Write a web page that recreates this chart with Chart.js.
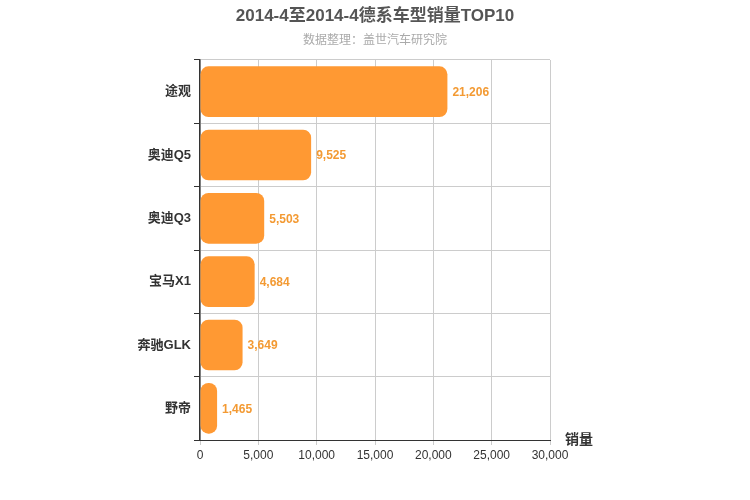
<!DOCTYPE html>
<html>
<head>
<meta charset="utf-8">
<script src="https://cdn.jsdelivr.net/npm/chart.js@4"></script>
<style>
  body { margin: 0; background: #fff; }
  #wrap { width: 750px; height: 500px; }
</style>
</head>
<body>
<div id="wrap"><canvas id="chart"></canvas></div>
<script>
// 车型和销量
const models = ['途观', '奥迪Q5', '奥迪Q3', '宝马X1', '奔驰GLK', '野帝'];
const sales = [21206, 9525, 5503, 4684, 3649, 1465];
const xTicks = [0, 5000, 10000, 15000, 20000, 25000, 30000];

const FONT = '"Liberation Sans", "Noto Sans CJK SC", sans-serif';

// 标题、数值标签和轴名
const decor = {
    id: 'decor',
    afterDraw(chart) {
        const ctx = chart.ctx;
        const area = chart.chartArea;
        ctx.save();
        ctx.textAlign = 'center';
        ctx.textBaseline = 'middle';
        ctx.fillStyle = '#555';
        ctx.font = 'bold 17px ' + FONT;
        ctx.fillText('2014-4至2014-4德系车型销量TOP10', 375, 16);
        ctx.fillStyle = '#aaa';
        ctx.font = '12px ' + FONT;
        ctx.fillText('数据整理：盖世汽车研究院', 375, 41);

        ctx.fillStyle = '#F39A33';
        ctx.font = 'bold 12px ' + FONT;
        ctx.textAlign = 'left';
        chart.getDatasetMeta(0).data.forEach((bar, i) => {
            ctx.fillText(sales[i].toLocaleString('en-US'), bar.x + 5, bar.y + 1);
        });

        ctx.fillStyle = '#333';
        ctx.font = 'bold 14px ' + FONT;
        ctx.fillText('销量', area.right + 15, area.bottom);
        ctx.restore();
    }
};

new Chart(document.getElementById('chart'), {
    type: 'bar',
    data: {
        labels: models,
        datasets: [{
            data: sales,
            backgroundColor: '#FF9933',
            borderRadius: 8,
            borderSkipped: false,
            barPercentage: 0.8,
            categoryPercentage: 1
        }]
    },
    options: {
        indexAxis: 'y',
        responsive: true,
        maintainAspectRatio: false,
        animation: false,
        layout: { padding: { left: 100, right: 200, top: 60, bottom: 35 } },
        plugins: { legend: { display: false }, tooltip: { enabled: false } },
        scales: {
            x: {
                min: 0, max: 30000,
                afterBuildTicks: axis => { axis.ticks = xTicks.map(v => ({ value: v })); },
                afterFit: axis => { axis.height = 25; },
                ticks: {
                    color: '#333',
                    font: { family: FONT, size: 12 },
                    callback: v => v.toLocaleString('en-US')
                },
                grid: { color: '#ccc', tickLength: 5 },
                border: { color: '#333' }
            },
            y: {
                afterFit: axis => { axis.width = 100; },
                ticks: { color: '#333', font: { family: FONT, size: 13, weight: 'bold' } },
                grid: { color: '#ccc', offset: true, tickLength: 6, drawTicks: true, tickColor: '#333' },
                border: { color: '#333', width: 1.5 }
            }
        }
    },
    plugins: [decor]
});
</script>
</body>
</html>
